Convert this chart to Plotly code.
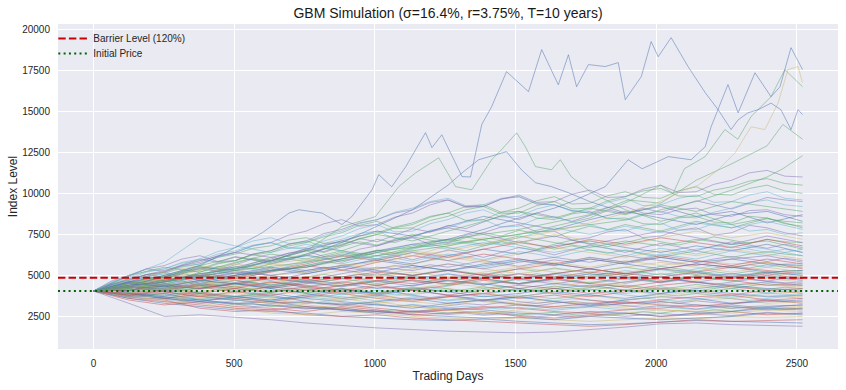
import plotly.graph_objects as go

# ---------------- data ----------------
S0 = 4050
BARRIER = 4860

DAYS = [0, 126, 252, 378, 504, 630, 756, 882, 1008, 1134, 1260,
        1386, 1512, 1638, 1764, 1890, 2016, 2142, 2268, 2394, 2520]

DAYS_FINE = [0, 63, 126, 189, 252, 315, 378, 441, 504, 567, 630, 693, 756, 819, 882, 945, 1008,
             1071, 1134, 1197, 1260, 1323, 1386, 1449, 1512, 1575, 1638, 1701, 1764, 1827, 1890,
             1953, 2016, 2079, 2142, 2205, 2268, 2331, 2394, 2457, 2520]

p01 = [4050,3600,3300,3100,2900,2800,2700,2500,2400,2300,2250,2350,2200,2100,2000,2050,2150,2250,2200,2150,2100]
p02 = [4050,3700,3500,3000,2800,2900,2600,2500,2600,2400,2300,2200,2100,2000,1900,2000,2150,2300,2200,2250,2300]
p03 = [4050,3800,3400,3300,3000,2700,2600,2800,2700,2500,2400,2300,2400,2300,2200,2300,2400,2350,2500,2450,2500]
p04 = [4050,3900,3700,3400,3300,3200,3000,2900,2800,2600,2500,2400,2450,2300,2500,2400,2300,2400,2500,2700,2600]
p05 = [4050,3500,3200,3400,3100,3000,2800,3100,2900,2600,2700,2800,2500,2400,2600,2700,2500,2600,2800,2600,2700]
p06 = [4050,4200,3800,3600,3700,3400,3200,3000,3200,3100,2900,2700,2800,2600,2500,2700,2900,2800,2700,2900,2800]
p07 = [4050,3700,3900,3500,3300,3400,3100,2900,2700,2800,3000,2900,2700,2600,2800,2700,2500,2700,2800,3000,2900]
p08 = [4050,4300,4000,3700,3500,3300,3400,3200,3000,2800,2900,3100,3000,2800,2700,2900,3000,3200,3100,2900,3000]
p09 = [4050,3800,3600,3800,3500,3300,3000,3200,3400,3100,2900,2700,2900,3100,3200,3000,2900,2800,3000,3200,3100]
p10 = [4050,4100,4300,3900,3700,3900,3600,3400,3200,3000,3300,3500,3200,3000,3100,3300,3400,3200,3000,3100,3200]
p11 = [4050,3600,3400,3200,3000,2900,3100,3000,2800,2700,2900,3000,3200,3100,3300,3400,3200,3100,3300,3500,3300]
p12 = [4050,4400,4100,3800,4000,3700,3500,3600,3300,3500,3700,3400,3200,3400,3300,3100,3300,3500,3600,3300,3400]
p13 = [4050,3900,3700,3500,3600,3800,3400,3200,3400,3600,3300,3500,3700,3400,3200,3500,3700,3600,3300,3400,3500]
p14 = [4050,4200,4500,4300,4000,3800,4100,3900,3600,3400,3700,3900,3600,3800,3500,3300,3500,3700,3800,3500,3600]
p15 = [4050,3700,3500,3700,3900,3600,3300,3500,3700,3400,3200,3500,3300,3600,3800,3500,3700,3900,3600,3800,3700]
p16 = [4050,4300,4000,4200,4500,4200,3900,3600,3800,4100,3800,3500,3700,4000,3800,3600,3900,4100,3900,3700,3800]
p17 = [4050,3800,4100,3900,3600,3400,3700,4000,3800,3500,3700,3900,4200,3900,3700,4000,4200,4000,3800,4100,3900]
p18 = [4050,4500,4800,4400,4100,4400,4200,3900,3600,3900,4200,3900,3700,4000,4300,4100,3800,4000,4200,3900,4000]
p19 = [4050,3900,3600,3400,3700,3500,3800,4100,3900,4200,4000,3700,3900,4200,4400,4100,3900,4200,4400,4200,4100]
p20 = [4050,4300,4100,4500,4300,4600,4300,4000,4300,4100,3800,4100,4400,4200,3900,4100,4400,4600,4300,4100,4200]
p21 = [4050,3900,4200,4000,4300,4100,3800,3600,3900,4200,4500,4300,4000,4300,4600,4400,4100,4300,4500,4400,4300]
p22 = [4050,4400,4700,5000,4700,4400,4700,4500,4200,4400,4700,4500,4200,4500,4300,4600,4900,4600,4400,4600,4400]
p23 = [4050,3800,3600,3900,4200,4000,4300,4600,4400,4100,4400,4700,4500,4800,4500,4300,4600,4900,4700,4400,4500]
p24 = [4050,4200,4500,4300,4700,5000,4700,4400,4700,5000,4700,4500,4800,4600,4300,4600,4900,4700,5000,4800,4600]
p25 = [4050,4600,4300,4700,4500,4200,4500,4800,5100,4800,5100,4800,4500,4800,5100,4900,4600,4900,5100,4900,4700]
p26 = [4050,3900,4100,4400,4200,4600,4400,4100,4400,4700,4500,4800,5100,4900,5200,5000,4700,5000,4800,5100,4800]
p27 = [4050,4400,4200,4000,4300,4600,4900,4600,4900,5200,4900,5200,5500,5200,4900,5200,5400,5100,4900,5200,4900]
p28 = [4050,4300,4600,4900,5300,5000,5300,5600,5300,5000,5300,5000,4800,5100,5400,5100,5400,5200,4900,5200,5000]
p29 = [4050,3800,4000,3700,4000,4300,4100,4400,4700,4500,4800,5100,4800,5100,5400,5100,4900,5200,5500,5300,5100]
p30 = [4050,4400,4700,4500,4800,4600,4900,5300,5000,5400,5700,5400,5100,5400,5200,5500,5800,5500,5200,5500,5200]
p31 = [4050,4500,4900,5400,5100,5500,5200,5600,5900,5600,5300,5600,5900,5600,6000,5700,5400,5700,5500,5200,5300]
p32 = [4050,4100,4400,4200,4500,4800,4600,4900,5200,5000,5300,5000,5400,5700,5400,5100,5400,5700,5500,5800,5400]
p33 = [4050,4700,5200,5600,5300,5700,6000,5700,5400,5700,6100,5800,5500,5800,5500,5900,5600,5900,5700,5800,5500]
p34 = [4050,4300,4100,4500,4900,4700,5100,5500,5200,5600,5300,5700,6000,5700,5400,5800,6100,5800,6000,5700,5600]
p35 = [4050,4200,4600,5000,4800,5200,5600,5300,5800,6200,5900,6300,6000,5700,6100,5800,6200,5900,5600,6000,5700]
p36 = [4050,4600,4400,4800,5200,5000,4700,5100,5500,5300,5700,5400,5800,6100,5800,6200,5900,5600,6000,6200,5800]
p37 = [4050,4400,4800,5300,5700,5400,5900,6300,6000,6500,6200,5900,6300,6700,6400,6100,6500,6200,6600,6300,6000]
p38 = [4050,4700,5100,4900,5400,5800,6200,5900,6400,6900,6600,7000,6700,6400,6800,6500,6200,6600,6900,6600,6200]
p39 = [4050,4500,4300,4700,5000,5400,5100,5500,6000,5700,6200,6600,6300,6800,7100,6700,6400,6800,6500,6900,6400]
p40 = [4050,5000,5500,5200,5800,6300,6000,6500,6200,6700,7200,6900,7400,7000,6700,7100,6800,7200,6900,7100,6600]
p41 = [4050,4300,4700,5100,4900,5300,5700,6200,5900,6400,6100,6600,7000,6700,7200,6900,7300,7000,6700,7200,6800]
p42 = [4050,4800,5300,5900,6400,6100,6600,7100,6800,7400,7900,7500,7000,7400,6900,7300,7700,7300,6900,7400,7000]
p43 = [4050,4500,4900,5400,5200,5700,5500,6000,6500,6200,6800,7300,7000,7500,7100,6800,7300,7700,7300,7600,7200]
p46 = [4050,4200,4600,5000,5500,5300,5800,6300,6000,6600,7100,6800,7300,7900,7500,8000,7600,8200,7900,8300,7800]
p48 = [4050,4400,4900,5500,5300,5900,6500,7100,7700,7400,8000,8600,8200,7800,8400,8900,8500,8100,8700,8900,8300]
p50 = [4050,4500,5000,5600,6100,5800,6300,6900,7500,7100,7700,8300,8900,8500,9100,8700,9300,8900,9500,9200,8900]
teal_early = [4050,5000,5800,7290,6800,6400,6900,6500,6000,6400,5900,5500,5900,5600,6100,5800,6300,6000,6500,6200,6600]
lowest = [4050,3300,2500,2600,2450,2300,2100,1950,1800,1700,1600,1550,1500,1550,1700,1850,2050,2100,2000,1950,1900]

f01 = [4050,3900,3750,3820,3600,3480,3550,3350,3200,3280,3100,3180,3050,2950,3020,2880,2800,2900,2750,2820,2700,2780,2650,2720,2600,2680,2750,2620,2700,2580,2650,2780,2700,2850,2760,2900,2820,2950,3050,2950,3000]
f02 = [4050,4180,3950,3820,3900,3700,3780,3600,3480,3550,3400,3300,3380,3250,3320,3180,3260,3100,3200,3050,3150,3280,3200,3350,3250,3150,3300,3420,3300,3200,3350,3250,3400,3300,3450,3350,3250,3380,3500,3420,3400]
f03 = [4050,3920,4100,3980,3850,3950,3800,3680,3750,3620,3700,3560,3650,3800,3700,3600,3720,3850,3750,3620,3500,3620,3750,3650,3800,3700,3580,3700,3850,3950,3800,3700,3850,3750,3900,3800,3680,3800,3920,3850,3800]
f04 = [4050,4200,4080,4250,4400,4280,4150,4300,4180,4050,3950,4080,3920,4050,4180,4050,3900,4020,4150,4300,4180,4050,4200,4350,4200,4080,4220,4100,4250,4400,4280,4150,4300,4180,4050,4200,4350,4250,4150,4280,4200]
f05 = [4050,3950,4100,4250,4150,4350,4500,4380,4550,4420,4300,4450,4600,4480,4350,4500,4650,4800,4650,4520,4680,4550,4420,4580,4450,4600,4750,4620,4500,4650,4800,4680,4550,4700,4580,4450,4600,4750,4650,4550,4600]
f06 = [4050,4250,4400,4280,4500,4650,4520,4700,4580,4750,4900,4750,4620,4800,4950,4800,4680,4850,5000,4880,5050,4900,4780,4950,5100,4950,5120,4980,4850,5000,5150,5020,4900,5080,5250,5100,4950,5100,4980,5120,5000]
f07 = [4050,4150,4000,4200,4380,4250,4450,4600,4480,4680,4850,4700,4900,5050,4900,5080,4950,5150,5000,5200,5350,5200,5050,5250,5400,5250,5450,5300,5150,5350,5500,5350,5550,5400,5250,5450,5600,5450,5650,5500,5500]
f08 = [4050,4300,4550,4400,4650,4850,4700,4950,5150,5000,5250,5450,5300,5500,5350,5200,5400,5600,5450,5650,5500,5700,5900,5750,5550,5750,5950,5800,6000,5850,5700,5900,6100,5950,5800,6000,6150,6000,5850,6050,5900]
f09 = [4050,4200,4400,4600,4450,4700,4900,5150,5000,5250,5500,5350,5600,5850,5700,5950,6200,6050,5850,6100,6300,6150,5950,6200,6450,6300,6100,6350,6550,6400,6200,6450,6650,6500,6300,6550,6750,6600,6400,6600,6400]
f10 = [4050,4350,4650,4500,4800,5100,4950,5250,5550,5400,5700,6000,5850,6150,6400,6250,6550,6350,6650,6900,6700,6500,6800,7050,6850,6600,6900,7150,6950,6750,7000,7250,7050,6850,7100,7350,7150,6950,7200,7050,7000]
f11 = [4050,3850,3700,3550,3650,3450,3300,3400,3250,3100,3180,3050,2950,3050,2900,2800,2880,2750,2850,2700,2620,2700,2580,2650,2550,2480,2560,2450,2520,2600,2500,2580,2680,2600,2700,2620,2550,2650,2750,2680,2700]
f12 = [4050,4150,4300,4150,4000,3880,3950,3800,3700,3820,3680,3580,3700,3600,3480,3580,3450,3550,3680,3560,3450,3550,3420,3520,3650,3550,3450,3580,3480,3380,3500,3620,3520,3420,3550,3680,3580,3480,3600,3700,3600]
f13 = [4050,3950,3800,3900,3750,3850,3980,3850,3720,3850,3980,4100,3950,4080,4200,4080,3950,4100,4250,4120,4000,4150,4300,4180,4050,4200,4350,4220,4100,4250,4400,4280,4150,4300,4450,4320,4200,4350,4500,4380,4400]
f14 = [4050,4250,4100,4300,4480,4350,4200,4380,4550,4400,4250,4420,4600,4450,4300,4480,4650,4500,4350,4550,4720,4580,4420,4600,4780,4620,4480,4650,4820,4680,4520,4700,4880,4720,4580,4750,4920,4780,4650,4820,4800]
f15 = [4050,3900,4050,4220,4100,4280,4450,4300,4480,4350,4520,4680,4550,4400,4580,4750,4600,4780,4950,4800,4650,4820,5000,4850,4700,4880,5050,4900,5080,4920,4780,4950,5120,4980,5150,5000,4850,5050,5220,5100,5200]
f16 = [4050,4400,4750,5050,4900,5250,5550,5400,5750,6050,5900,6250,6550,6400,6750,7050,6850,7200,7500,7300,7100,7350,7150,6900,7100,6850,6600,6800,6550,6350,6550,6300,6100,6300,6500,6300,6100,6300,6450,6300,6200]
f17 = [4050,4300,4550,4800,4650,4900,4750,4550,4700,4500,4300,4450,4250,4050,4200,4000,3850,3980,3800,3650,3780,3600,3450,3580,3400,3300,3420,3280,3150,3280,3150,3050,3180,3050,2950,3080,3200,3100,3000,3150,3200]
f18 = [4050,3850,3650,3750,3550,3400,3500,3350,3450,3600,3480,3650,3800,3700,3880,4050,3900,4100,4300,4150,4350,4550,4400,4600,4800,4650,4850,5050,4900,5100,5300,5150,5350,5200,5400,5600,5450,5650,5500,5700,5700]
f19 = [4050,4450,4300,4650,5000,4850,5200,5550,5400,5750,6100,5950,6300,6650,6500,6850,7200,7000,7350,7150,6950,7300,7600,7400,7750,7550,7350,7700,8000,7800,8100,7900,7700,8000,8300,8100,7900,8200,8450,8300,8200]
f20 = [4050,4300,4600,4900,4750,5100,5450,5300,5650,6000,5850,6250,6650,6450,6850,7250,7050,7450,7850,7650,8050,7850,8250,8650,8400,8800,8550,8300,8650,9000,8750,9100,8850,9200,9550,9300,9050,9400,9750,9600,9500]
f21 = [4050,4200,4350,4200,4050,4200,4380,4220,4080,3950,4080,4220,4080,3950,3820,3950,4100,3960,3830,3970,4120,3980,3850,3990,4140,4000,3870,4010,4160,4020,3890,4030,4180,4040,3910,4050,4200,4060,3930,4080,4000]
f22 = [4050,4180,4320,4180,4350,4200,4380,4550,4400,4580,4420,4600,4780,4620,4800,4650,4500,4680,4860,4700,4880,4720,4900,5080,4920,5100,4950,4800,4980,5150,5000,5180,5020,5200,5050,5230,5080,5250,5100,5280,5300]
f23 = [4050,4500,4950,5400,5250,5650,6000,5800,6150,5950,5700,5950,6250,6050,5800,6100,6400,6200,5950,6250,6550,6350,6100,6400,6700,6500,6250,6550,6850,6650,6400,6700,6950,6750,6500,6800,7050,6850,6650,6900,6700]
f24 = [4050,3950,3800,3700,3800,3650,3550,3650,3500,3400,3500,3380,3280,3380,3250,3350,3220,3120,3230,3120,3020,3130,3030,2950,3050,2960,2880,2980,3080,2990,2900,3000,3100,3000,2920,3020,3120,3030,2950,3050,3000]
f25 = [4050,4100,3950,4100,4250,4100,4280,4450,4300,4150,4320,4500,4350,4200,4380,4550,4400,4580,4750,4600,4450,4620,4800,4650,4500,4680,4850,4700,4550,4720,4900,4750,4600,4780,4950,4800,4650,4820,5000,4850,4900]
f26 = [4050,4450,4600,4950,5200,4850,5000,5350,5500,5750,6000,6350,6500,6150,6200,6600,6800,7150,7300,6900,7000,7450,7600,7950,8100,7650,7700,7150,7300,7650,7800,7300,7400,7750,7900,7450,7600,8050,7900,7600,7400]
f27 = [4050,4600,4900,5250,5400,5750,5900,6300,6500,6850,7000,6700,6600,6950,7200,7550,7700,7250,7300,7750,7900,8250,8400,7950,8000,8450,8600,8250,8100,7800,7700,8050,8200,7750,7800,8150,8100,7700,7800,7500,7600]
f28 = [4050,4500,4700,5050,5200,5550,5700,6100,6300,6650,6800,7150,7300,6950,7000,7400,7600,7950,8200,8600,8800,9200,9300,8850,8900,8500,8400,8750,8900,8450,8500,8150,8100,8500,8600,8250,8200,8600,8500,8150,8000]
f29 = [4050,4650,5000,5400,5600,6000,6200,5850,5900,6300,6500,6900,7100,7550,7800,8200,8400,8800,9000,9450,9600,9150,9200,9650,9800,9350,9300,8950,8800,9150,9200,8800,8700,9000,9100,8700,8600,8950,9000,8700,8600]
f30 = [4050,4550,4800,5200,5400,5800,6000,6450,6700,7100,7300,6950,7000,7450,7700,8150,8400,8850,9100,9500,9700,9250,9300,9700,9800,9400,9300,8950,8800,8500,8400,8750,8900,8600,8500,8850,9100,9450,9600,9300,9200]
f31 = [4050,4350,4500,4800,4900,5250,5400,5750,5900,6300,6500,6900,7100,6750,6800,7250,7500,7900,8100,8550,8800,8350,8400,8850,9100,9550,9800,9350,9400,9850,10100,9750,9700,10150,10400,9950,9900,10300,10500,10150,10000]
f32 = [4050,4450,4700,5050,5200,5600,5800,6200,6400,6800,7000,7450,7700,8150,8400,8000,8100,8550,8800,9300,9600,9200,9200,9650,9900,9450,9500,9950,10200,9750,9800,10250,10500,10050,10100,10550,10800,11250,11400,11050,11000]
f33 = [4050,4400,4600,4950,5100,5500,5700,6100,6400,6800,7000,6650,6700,7100,7400,7850,8100,7650,7700,8150,8400,8800,9000,8550,8600,9050,9300,8900,9000,9450,9700,9250,9300,9700,9900,9450,9500,9900,10100,9700,9600]
f34 = [4050,4200,4300,4650,4800,5150,5300,5700,5900,6250,6400,6800,7000,7350,7600,8050,8300,7850,7900,8350,8600,9000,9200,8750,8800,9250,9500,9050,9100,9550,9800,10150,10300,9850,9800,10200,10400,10750,10900,10600,10500]

top_days = [0,126,252,378,504,600,695,730,812,883,918,990,1014,1060,1110,1180,1203,1238,1310,1340,1380,
            1415,1468,1511,1546,1593,1652,1688,1717,1759,1819,1865,1890,1947,1982,2007,2053,2113,2174,
            2220,2266,2291,2326,2362,2408,2443,2479,2504,2520]
top_vals = [4050,4600,5000,5600,6700,7600,8800,9000,8800,8100,8580,10220,11140,10400,11630,13700,12790,13570,11020,11000,14200,
            15280,17420,16750,16200,18760,16620,18450,16500,17850,17730,17970,15710,17120,19250,18330,19490,17730,16140,
            15100,13890,14480,14910,15100,15500,15100,13890,15100,14800]

late_blue_days = [0,126,252,378,504,630,756,882,1008,1134,1260,1386,1512,1638,1700,1819,1900,1950,2043,2124,2174,2195,2255,2291,2351,2408,2440,2479,2500,2520]
late_blue_vals = [4050,4300,4200,4600,5000,5300,5500,6000,6500,6900,7200,7800,8500,9100,9500,10410,12050,11500,12240,12050,12840,14060,16630,14910,17350,15890,16500,18880,18200,17540]

mid_blue_days = [0,126,252,378,504,630,756,882,1008,1134,1260,1310,1369,1468,1521,1571,1628,1688,1764,1890,2016,2142,2268,2394,2520]
mid_blue_vals = [4050,4400,4600,5100,5400,5900,6200,7000,8000,9000,10500,11250,12050,12540,11440,10650,10410,10040,9500,8800,9200,8600,8900,8200,8700]

green_hump_days = [0,126,252,378,504,630,756,883,1002,1085,1144,1227,1287,1345,1415,1450,1504,1535,1571,1628,1659,1698,1770,1840,1890,2016,2142,2268,2394,2520]
green_hump_vals = [4050,4500,4700,5100,5400,5900,6500,7970,8580,10410,11240,12170,10410,10220,12050,12660,13690,12840,11630,11440,12050,11020,10040,9420,9000,8300,8800,8100,8500,7900]

green_late_days = [0,126,252,378,504,630,756,882,1008,1134,1260,1386,1512,1638,1764,1900,2016,2060,2100,2174,2244,2290,2337,2408,2457,2520]
green_late_vals = [4050,4200,4500,4900,5000,5300,5500,5900,6200,6500,6800,7200,7500,8000,8500,9500,10500,10000,11500,12240,13890,13300,14680,15890,17540,16500]

green_b_days = [0,252,504,756,1008,1260,1512,1764,1900,2016,2142,2268,2394,2450,2520]
green_b_vals = [4050,4400,4900,5600,6400,7200,7800,8700,9600,9400,10800,11800,12900,14200,13300]

green_c_days = [0,252,504,756,1008,1260,1512,1764,1900,2016,2142,2268,2394,2450,2520]
green_c_vals = [4050,4600,5300,5800,6500,6900,7500,8100,8400,9000,9500,10200,11000,11500,12300]

tan_days = [0,126,252,378,504,630,756,882,1008,1134,1260,1386,1512,1638,1764,1890,2016,2100,2150,2220,2280,2337,2386,2433,2468,2504,2520]
tan_vals = [4050,4300,4100,4500,4700,5000,5200,5600,5800,6200,6500,6900,7300,7700,8200,8800,9500,10200,10500,11440,12470,14060,13890,15500,17540,17730,16750]

X_TICKS = [0, 500, 1000, 1500, 2000, 2500]
Y_TICKS = [2500, 5000, 7500, 10000, 12500, 15000, 17500, 20000]

# ---------------- styling ----------------
PALETTE = ["76,114,176", "85,168,104", "196,78,82", "129,114,178", "204,185,116", "100,181,205"]
ALPHA = 0.5
LW = 1.0

coarse = [p01, p02, p03, p04, p05, p06, p07, p08, p09, p10, p11, p12, p13, p14, p15, p16, p17, p18,
          p19, p20, p21, p22, p23, p24, p25, p26, p27, p28, p29, p30, p31, p32, p33, p34, p35, p36,
          p37, p38, p39, p40, p41, p42, p43, p46, p48, p50]
fine = [f01, f02, f03, f04, f05, f06, f07, f08, f09, f10, f11, f12, f13, f14, f15, f16, f17, f18,
        f19, f20, f21, f22, f23, f24, f25, f26, f27, f28, f29, f30, f31, f32, f33, f34]

fig = go.Figure()

def add_path(xs, ys, cidx):
    fig.add_trace(go.Scatter(
        x=xs, y=ys, mode="lines",
        line=dict(color=f"rgba({PALETTE[cidx]},{ALPHA})", width=LW),
        showlegend=False, hoverinfo="skip"))

n = max(len(coarse), len(fine))
k = 0
for i in range(n):
    if i < len(coarse):
        add_path(DAYS, coarse[i], k % 6)
        k += 1
    if i < len(fine):
        add_path(DAYS_FINE, fine[i], k % 6)
        k += 1
add_path(DAYS, teal_early, 5)
add_path(DAYS, lowest, 3)
add_path(mid_blue_days, mid_blue_vals, 0)
add_path(green_hump_days, green_hump_vals, 1)
add_path(green_b_days, green_b_vals, 1)
add_path(green_c_days, green_c_vals, 1)
add_path(green_late_days, green_late_vals, 1)
add_path(tan_days, tan_vals, 4)
add_path(late_blue_days, late_blue_vals, 0)
add_path(top_days, top_vals, 0)

XR = [-126, 2646]
YR = [515, 20323]
PLOT_H = 390 - 24 - 41

fig.add_trace(go.Scatter(
    x=XR, y=[BARRIER, BARRIER], mode="lines", name="Barrier Level (120%)",
    line=dict(color="#cc0000", width=2, dash="7.4px,3.2px"), hoverinfo="skip",
    legend="legend"))
fig.add_trace(go.Scatter(
    x=XR, y=[S0, S0], mode="lines", name="Initial Price",
    line=dict(color="#006400", width=2, dash="2px,3.3px"), hoverinfo="skip",
    legend="legend2"))

FONT = "Liberation Sans, Arial, sans-serif"
leg_common = dict(xanchor="left", yanchor="top", bgcolor="rgba(0,0,0,0)", borderwidth=0,
                  font=dict(size=10, color="#262626"))
fig.update_layout(
    width=846, height=390,
    margin=dict(l=58, r=8, t=24, b=41),
    paper_bgcolor="white", plot_bgcolor="#EAEAF2",
    font=dict(family=FONT, size=10, color="#262626"),
    title=dict(text="GBM Simulation (σ=16.4%, r=3.75%, T=10 years)",
               x=0.5, xref="paper", xanchor="center",
               y=1 - 13.5 / 390, yref="container", yanchor="middle",
               font=dict(size=14, color="#1a1a1a")),
    showlegend=True,
    legend=dict(x=-0.006, y=1.0, **leg_common),
    legend2=dict(x=-0.006, y=1.0 - 15 / PLOT_H, **leg_common),
    hovermode=False,
)
fig.update_xaxes(range=XR, tickvals=X_TICKS, ticktext=[str(v) for v in X_TICKS],
                 showgrid=True, gridcolor="white", gridwidth=1, zeroline=False,
                 showline=False, ticks="outside", ticklen=5, tickcolor="rgba(0,0,0,0)",
                 automargin=False,
                 title=dict(text="Trading Days", font=dict(size=12, color="#262626"), standoff=3))
fig.update_yaxes(range=YR, tickvals=Y_TICKS, ticktext=[str(v) for v in Y_TICKS],
                 showgrid=True, gridcolor="white", gridwidth=1, zeroline=False,
                 showline=False, ticks="outside", ticklen=5, tickcolor="rgba(0,0,0,0)",
                 automargin=False,
                 title=dict(text="Index Level", font=dict(size=12, color="#262626"), standoff=1))

fig.write_html("out.html", config={"displayModeBar": False},
               post_script="document.body.style.margin='0';")
